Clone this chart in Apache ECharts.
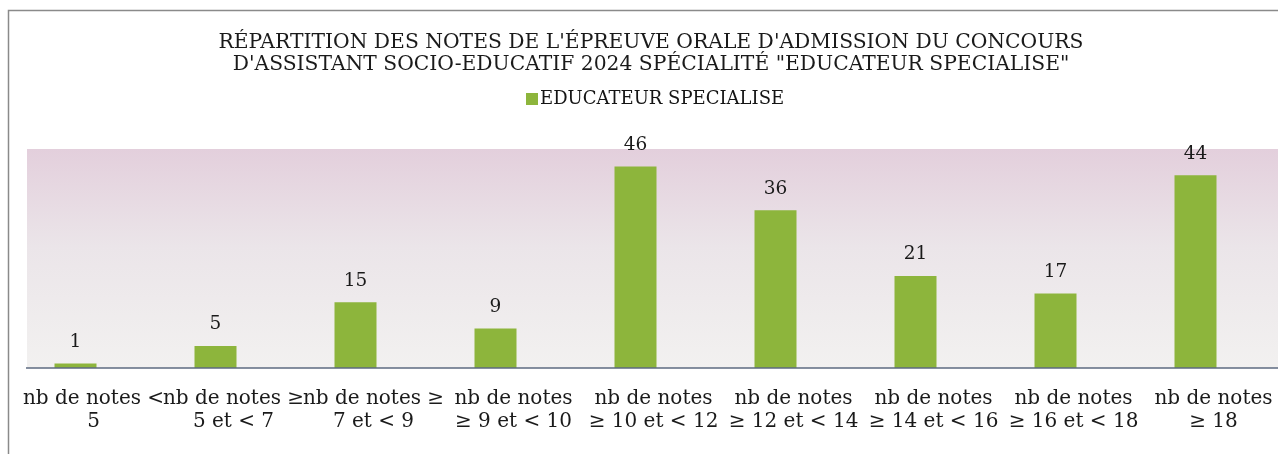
<!DOCTYPE html>
<html>
<head>
<meta charset="utf-8">
<script src="https://cdn.jsdelivr.net/npm/echarts@6/dist/echarts.min.js"></script>
<style>
  html, body { margin: 0; padding: 0; background: #fff; }
  #chart { width: 1278px; height: 454px; }
</style>
</head>
<body>
<div id="chart"></div>
<script>
// categories (x axis labels, as printed)
const categories = [
  "nb de notes <\n5",
  "nb de notes ≥\n5 et < 7",
  "nb de notes ≥\n7 et < 9",
  "nb de notes\n≥ 9 et < 10",
  "nb de notes\n≥ 10 et < 12",
  "nb de notes\n≥ 12 et < 14",
  "nb de notes\n≥ 14 et < 16",
  "nb de notes\n≥ 16 et < 18",
  "nb de notes\n≥ 18"
];
const seriesName = "EDUCATEUR SPECIALISE";
const values = [1, 5, 15, 9, 46, 36, 21, 17, 44];
const titleText = "RÉPARTITION DES NOTES DE L'ÉPREUVE ORALE D'ADMISSION DU CONCOURS\nD'ASSISTANT SOCIO-EDUCATIF 2024 SPÉCIALITÉ \"EDUCATEUR SPECIALISE\"";

const chart = echarts.init(document.getElementById("chart"));

const serif = "DejaVu Serif";

chart.setOption({
  backgroundColor: "#fff",
  animation: false,
  title: {
    text: titleText,
    left: 646,
    top: 27,
    textAlign: "center",
    textStyle: {
      fontFamily: serif,
      fontWeight: "normal",
      fontSize: 20.3,
      lineHeight: 22,
      color: "#1a1a1a"
    }
  },
  legend: {
    data: [seriesName],
    left: 521,
    top: 85,
    icon: "rect",
    itemWidth: 12,
    itemHeight: 12,
    itemGap: 4,
    textStyle: {
      fontFamily: serif,
      fontSize: 18,
      color: "#141414",
      padding: [0, 0, 0, -3]
    }
  },
  graphic: [
    // outer frame of the chart area
    {
      type: "rect",
      shape: { x: 8.5, y: 10.5, width: 1300, height: 500 },
      style: { fill: null, stroke: "#8a8a8a", lineWidth: 1.5 },
      z: -20
    },
    // plot area gradient
    {
      type: "rect",
      shape: { x: 27, y: 149, width: 1260, height: 219 },
      style: {
        fill: new echarts.graphic.LinearGradient(0, 0, 0, 1, [
          { offset: 0, color: "#e3cfdc" },
          { offset: 0.45, color: "#ebe5e9" },
          { offset: 1, color: "#f2f1f0" }
        ])
      },
      z: -10
    },
    // category axis line
    {
      type: "line",
      shape: { x1: 26, y1: 368, x2: 1290, y2: 368 },
      style: { stroke: "#5d6a80", lineWidth: 1.5 },
      z: 10
    }
  ],
  grid: {
    left: 5.5,
    width: 1260,
    top: 149,
    bottom: 86,
    containLabel: false,
    outerBoundsMode: "none"
  },
  xAxis: {
    type: "category",
    data: categories,
    axisLine: { show: false },
    axisTick: { show: false },
    axisLabel: {
      interval: 0,
      margin: 19,
      fontFamily: serif,
      fontSize: 20,
      lineHeight: 23,
      color: "#1a1a1a",
      padding: [0, 0, 0, 36]
    }
  },
  yAxis: {
    type: "value",
    min: 0,
    max: 50,
    show: false,
    splitLine: { show: false }
  },
  series: [
    {
      name: seriesName,
      type: "bar",
      data: values,
      barWidth: 42,
      itemStyle: { color: "#8db53c" },
      label: {
        show: true,
        position: "top",
        distance: 12,
        fontFamily: serif,
        fontSize: 18.5,
        color: "#1a1a1a"
      }
    }
  ]
});
</script>
</body>
</html>
